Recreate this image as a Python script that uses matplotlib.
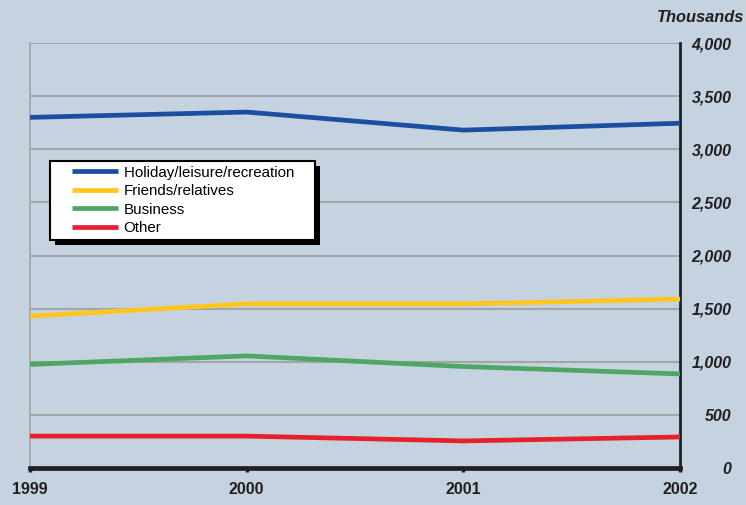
import numpy as np
import matplotlib.pyplot as plt
from matplotlib.legend_handler import HandlerLine2D
from matplotlib.patches import Rectangle

years = [1999, 2000, 2001, 2002]
holiday = [3300, 3350, 3180, 3245]
friends = [1430, 1545, 1545, 1590]
business = [975, 1055, 955, 885]
other = [300, 300, 255, 292]

series = [holiday, friends, business, other]
labels = ["Holiday/leisure/recreation", "Friends/relatives", "Business", "Other"]
colors = ["#1A4E9E", "#FFC61E", "#4CA765", "#E8202E"]
yticks = [0, 500, 1000, 1500, 2000, 2500, 3000, 3500, 4000]

bg = "#C5D3E0"
ink = "#231F20"
plt.rcParams["font.family"] = ["Liberation Sans", "DejaVu Sans"]


# legend line drawn only on the right part of the handle box
class ShiftedLine(HandlerLine2D):
    def get_xdata(self, legend, xdescent, ydescent, width, height, fontsize):
        x = np.array([-xdescent + 0.28 * width, width])
        return x, x


fig = plt.figure(figsize=(7.46, 5.05), dpi=100, facecolor=bg)
ax = fig.add_axes([30 / 746, 37 / 505, 650 / 746, 425 / 505])
ax.set_facecolor(bg)

# gridlines
for t in yticks[1:]:
    ax.axhline(t, color="#A3A5A8", lw=1.5, zorder=1)

for vals, lab, c in zip(series, labels, colors):
    ax.plot(years, vals, color=c, lw=3.4, label=lab, zorder=3, solid_capstyle="butt")

ax.set_xlim(1999, 2002)
ax.set_ylim(0, 4000)

ax.spines["top"].set_visible(False)
ax.spines["left"].set_color("#A3A5A8")
ax.spines["left"].set_linewidth(1.2)
ax.spines["right"].set_color(ink)
ax.spines["right"].set_linewidth(2)
ax.spines["bottom"].set_color(ink)
ax.spines["bottom"].set_linewidth(3.4)
ax.spines["bottom"].set_zorder(4)

ax.set_xticks(years)
ax.set_xticklabels([str(y) for y in years], fontsize=11.5, fontweight="bold", color=ink)
ax.tick_params(axis="x", length=3, width=2.5, color=ink, pad=7)

ax.yaxis.tick_right()
ax.set_yticks(yticks)
ax.set_yticklabels([f"{t:,}" for t in yticks], fontsize=11.5, fontweight="bold",
                   style="italic", color=ink)
ax.tick_params(axis="y", length=0, pad=37)
for lbl in ax.get_yticklabels():
    lbl.set_horizontalalignment("right")

fig.text(744 / 746, 1 - 18 / 505, "Thousands", ha="right", va="center", fontsize=11.8,
         fontweight="bold", style="italic", color=ink)

leg_labels = [labels[0] + "\u00a0" * 4] + labels[1:]
handles = ax.get_lines()[-4:]
leg = ax.legend(handles, leg_labels, loc="upper left", bbox_to_anchor=(0.031, 0.722),
                fontsize=10.9, frameon=True, fancybox=False, edgecolor="black",
                framealpha=1, handlelength=4.2, borderpad=0.3, labelspacing=0.3,
                handletextpad=0.35, borderaxespad=0,
                handler_map={plt.Line2D: ShiftedLine()})
leg.get_frame().set_linewidth(1.5)
leg.set_zorder(6)
for h in leg.get_lines():
    h.set_linewidth(3.4)

# black drop shadow under the legend box
fig.canvas.draw()
bb = leg.get_frame().get_window_extent()
shadow = Rectangle((bb.x0 + 5, bb.y0 - 5), bb.width, bb.height, transform=None,
                   facecolor="black", edgecolor="none", zorder=5)
ax.add_artist(shadow)

fig.savefig("out.png", dpi=100, facecolor=bg)
